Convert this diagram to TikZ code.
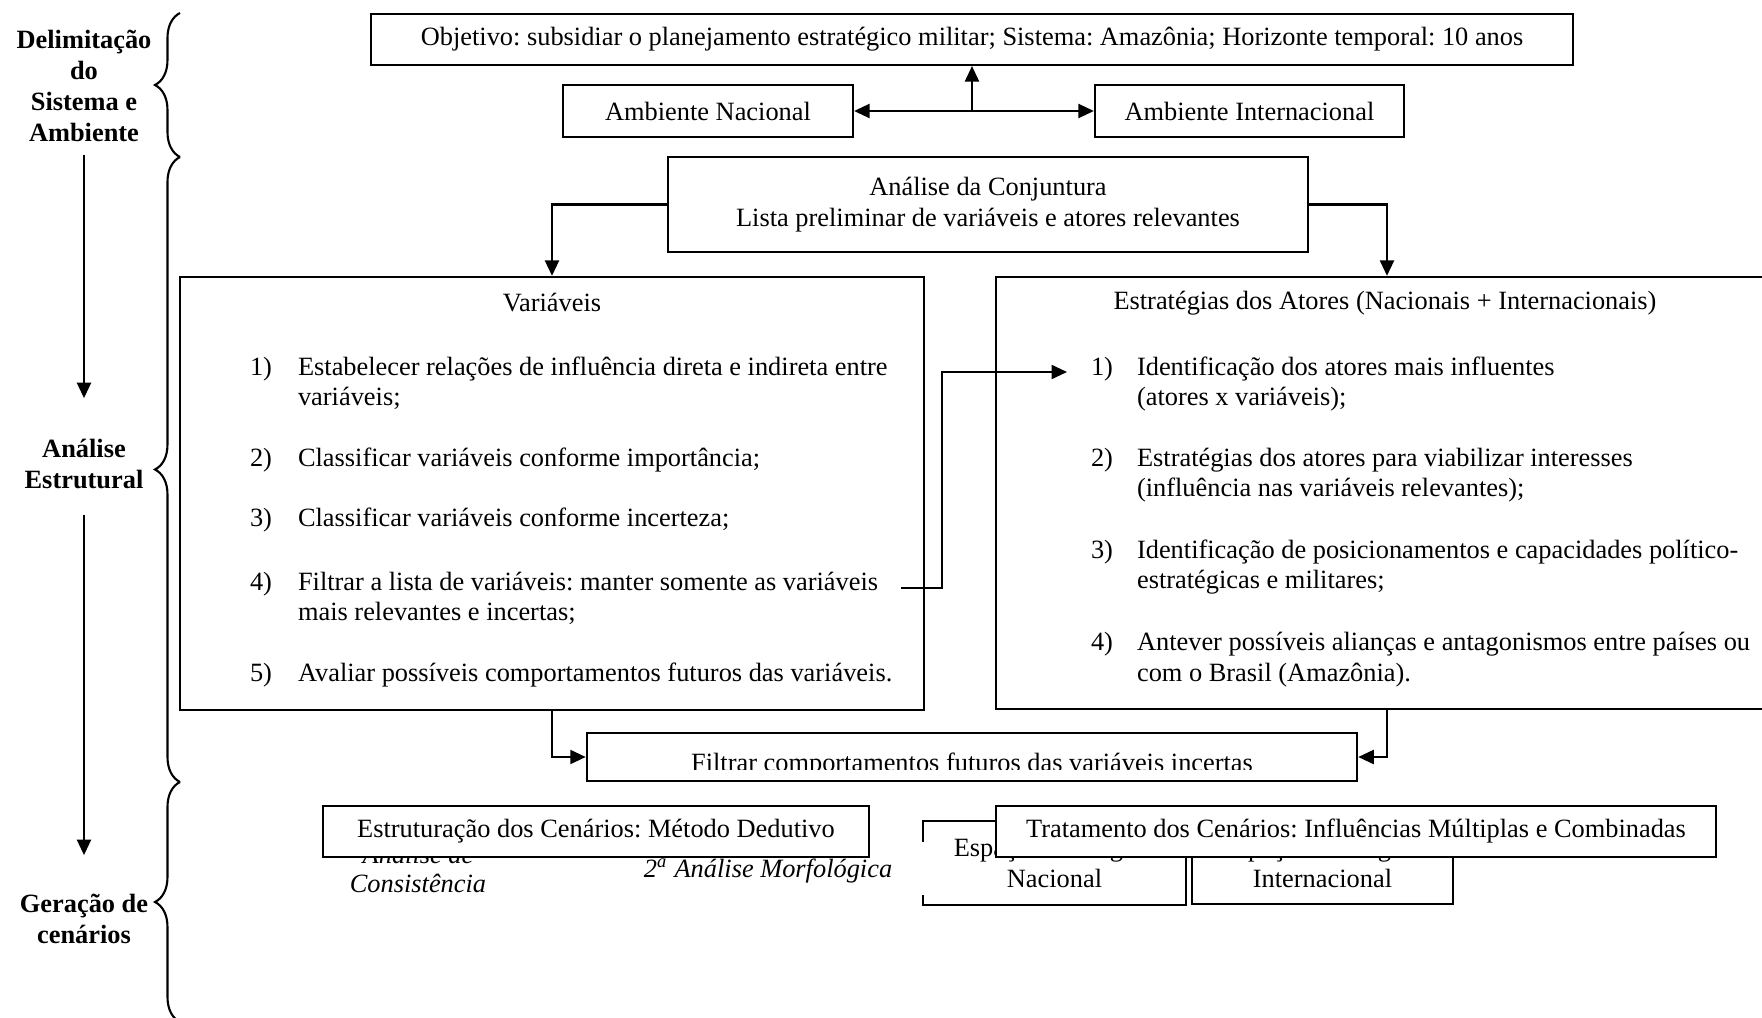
\documentclass[tikz,border=0pt]{standalone}
\usepackage{fontspec}
\setmainfont{Liberation Serif}
\usetikzlibrary{arrows.meta,decorations.pathreplacing}
\frenchspacing

\begin{document}
\begin{tikzpicture}[x=0.01cm, y=-0.01cm, line width=.6pt,
    every node/.style={font=\fontsize{7.5}{8.7}\selectfont},
    box/.style={draw, fill=white, inner sep=0pt, align=center},
    lbl/.style={font=\fontsize{7.5}{8.8}\selectfont\bfseries, align=center, inner sep=0pt},
    itm/.style={anchor=base west, inner sep=0pt},
    emph/.style={font=\fontsize{7.5}{8.1}\selectfont\itshape, align=center, inner sep=0pt},
    brc/.style={decorate, decoration={brace, amplitude=.25cm}},
    >={Triangle[length=4.4pt, width=4pt]}]
  \useasboundingbox (0,0) rectangle (1762,1018);
  \clip (0,0) rectangle (1762,1018);

  % phases on the left
  \node[lbl] (sis) at (84,86) {Delimitação\\do\\Sistema e\\Ambiente};
  \node[lbl] (est) at (84,464) {Análise\\Estrutural};
  \node[lbl] (ger) at (84,919) {Geração de\\cenários};
  \draw[->, shorten <=.12cm, shorten >=.4cm] (sis) -- (est);
  \draw[->, shorten <=.25cm, shorten >=.38cm] (est) -- (ger);
  \draw[brc] (180,157) -- (180,13);
  \draw[brc] (180,782) -- (180,157);
  \draw[brc] (180,1022) -- (180,782);

  % system and environment
  \node[box, minimum width=12.02cm, minimum height=.51cm] (obj) at (972,39.5) {Objetivo: subsidiar o planejamento estratégico militar; Sistema: Amazônia; Horizonte temporal: 10 anos};
  \node[box, minimum width=2.9cm, minimum height=.52cm] (anac) at (708,111) {Ambiente Nacional};
  \node[box, minimum width=3.09cm, minimum height=.52cm] (aint) at (1249.5,111) {Ambiente Internacional};
  \coordinate (jn) at (972,111);
  \draw[->] (jn) -- (obj.south);
  \draw[->] (jn) -- (anac);
  \draw[->] (jn) -- (aint);

  % structural analysis
  \node[box, minimum width=6.4cm, minimum height=.95cm] (conj) at (988,204.5) {Análise da Conjuntura\\Lista preliminar de variáveis e atores relevantes};
  \node[box, minimum width=7.44cm, minimum height=4.33cm] (var) at (552,493.5) {};
  \node[box, minimum width=7.82cm, minimum height=4.32cm] (estr) at (1387,493) {};
  \node (vtit) at (552,303) {Variáveis};
  \node (etit) at (1385,303) {Estratégias dos Atores (Nacionais + Internacionais)};
  \foreach \n/\y/\t [count=\k] in {1)/375/{Estabelecer relações de influência direta e indireta entre}, /405/{variáveis;},
      2)/466/{Classificar variáveis conforme importância;}, 3)/526/{Classificar variáveis conforme incerteza;},
      4)/590/{Filtrar a lista de variáveis: manter somente as variáveis}, /620/{mais relevantes e incertas;},
      5)/681/{Avaliar possíveis comportamentos futuros das variáveis.}} {
    \node[itm] (vn\k) at (249,\y) {\n};
    \node[itm] (vt\k) at (297,\y) {\t};
  }
  \foreach \n/\y/\t [count=\k] in {1)/375/{Identificação dos atores mais influentes}, /405/{(atores x variáveis);},
      2)/466/{Estratégias dos atores para viabilizar interesses}, /496/{(influência nas variáveis relevantes);},
      3)/558/{Identificação de posicionamentos e capacidades político-}, /588/{estratégicas e militares;},
      4)/650/{Antever possíveis alianças e antagonismos entre países ou}, /681/{com o Brasil (Amazônia).}} {
    \node[itm] (en\k) at (1090,\y) {\n};
    \node[itm] (et\k) at (1136,\y) {\t};
  }
  \draw[->] (conj.west) -| (var.north);
  \draw[->] (conj.east) -| (estr.north);
  \coordinate (vout) at (901,588);
  \coordinate (ein) at (1067,372);
  \draw[->] (vout) -- ++(41,0) |- (ein);

  \node[box, minimum width=7.7cm, minimum height=.48cm] (filt) at (972,757) {};
  \begin{scope}
    \clip (filt.north west) rectangle (1400,769);
    \node[anchor=base] (ftxt) at (972,771) {Filtrar comportamentos futuros das variáveis incertas};
  \end{scope}
  \draw[->] (var.south) |- (filt.west);
  \draw[->] (estr.south) |- (filt.east);

  % scenario generation
  \node[emph] (cons) at (418,869) {Análise de\\Consistência};
  \node[box, minimum width=5.46cm, minimum height=.51cm] (estrut) at (596,831.5) {Estruturação dos Cenários: Método Dedutivo};
  \node[emph] (morf) at (768,871) {2\textsuperscript{a} Análise Morfológica};
  \node[minimum width=2.61cm, minimum height=.82cm, inner sep=0pt, align=center] (esn) at (1054.5,863) {Espaço Estratégico\\Nacional};
  \draw (esn.north west) ++(0,21) -- (esn.north west) -- (esn.north east) -- (esn.south east) -- (esn.south west) -- ++(0,-10);
  \node[box, minimum width=2.61cm, minimum height=.82cm] (esi) at (1322.5,863) {Espaço Estratégico\\Internacional};
  \node[box, minimum width=7.2cm, minimum height=.51cm] (trat) at (1356,831.5) {Tratamento dos Cenários: Influências Múltiplas e Combinadas};
\end{tikzpicture}
\end{document}
